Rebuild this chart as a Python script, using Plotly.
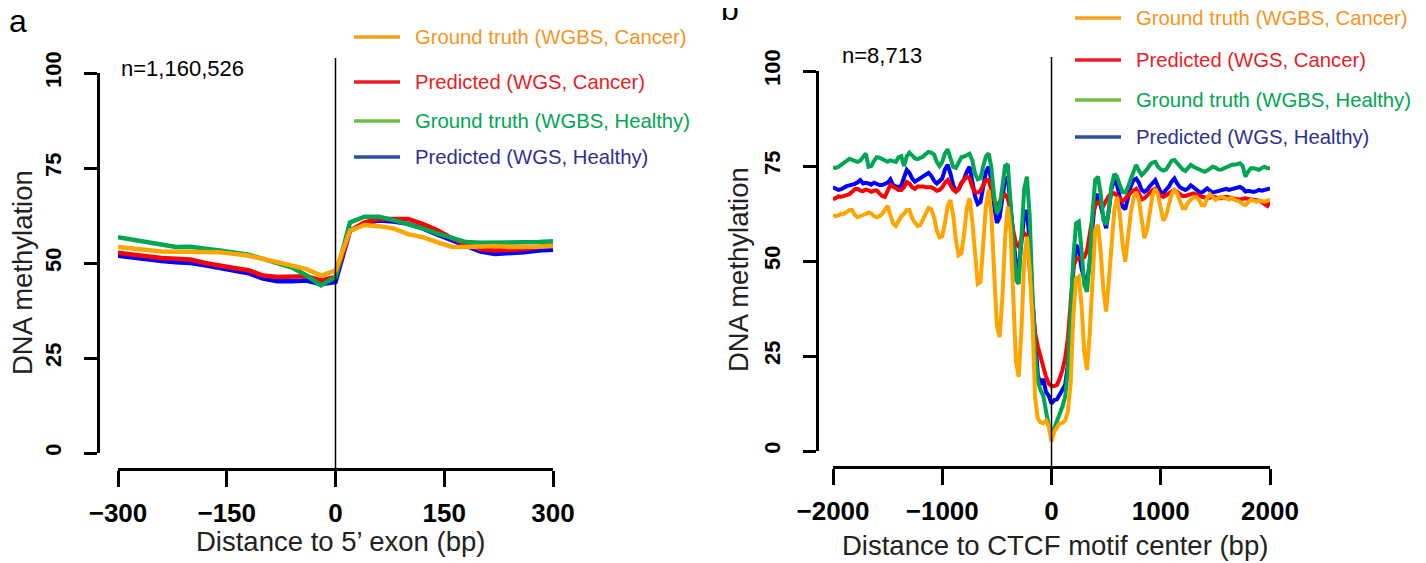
import plotly.graph_objects as go

# ---------------- data: panel a (distance to 5' exon) ----------------
exon_pos = [-300, -280, -260, -240, -220, -200, -180, -160, -140, -120, -100, -80, -60, -40, -20, 0,
            20, 40, 60, 80, 100, 120, 140, 160, 180, 200, 220, 240, 260, 280, 300]
exon_gt_cancer = [54.2, 53.7, 53.4, 53.0, 52.9, 52.8, 52.8, 52.8, 52.4, 51.9, 51.1, 50.2, 49.5, 48.4, 46.7, 48.0,
                  58.5, 60.0, 59.7, 59.1, 57.6, 56.8, 55.5, 54.3, 54.2, 54.4, 54.5, 54.2, 54.2, 54.3, 54.5]
exon_pred_cancer = [52.7, 52.2, 51.8, 51.3, 51.1, 50.9, 50.0, 49.2, 48.7, 48.1, 46.7, 46.3, 46.4, 46.5, 45.4, 46.3,
                    58.5, 60.7, 61.6, 61.7, 61.6, 60.3, 58.7, 56.6, 54.9, 53.7, 53.3, 53.5, 53.7, 54.2, 54.6]
exon_gt_healthy = [56.8, 56.1, 55.5, 54.6, 54.2, 54.3, 53.7, 53.3, 52.8, 52.2, 51.1, 50.0, 48.8, 46.7, 44.1, 46.3,
                   60.7, 62.2, 62.2, 61.3, 60.3, 59.1, 57.8, 56.6, 55.5, 55.3, 55.3, 55.4, 55.4, 55.5, 55.7]
exon_pred_healthy = [51.9, 51.4, 51.0, 50.5, 50.2, 50.0, 49.4, 48.7, 48.1, 47.3, 45.9, 45.2, 45.2, 45.4, 44.4, 45.0,
                     58.5, 60.5, 61.2, 60.9, 60.3, 59.1, 57.5, 56.1, 54.6, 53.0, 52.4, 52.6, 52.8, 53.3, 53.5]

# ---------------- data: panel b (distance to CTCF motif center), 25 bp bins ----------------
ctcf_pos = list(range(-2000, 2001, 25))
ctcf_gt_cancer = [
    62.1, 61.8, 62.0, 62.5, 62.4, 63.0, 63.4, 63.4, 62.1, 61.5,
    61.7, 62.1, 62.4, 62.8, 62.5, 61.8, 61.5, 61.8, 62.4, 63.4,
    64.5, 62.1, 59.9, 59.2, 60.8, 61.8, 62.4, 63.4, 63.4, 61.2,
    60.1, 59.2, 59.5, 61.2, 62.5, 63.9, 63.6, 61.5, 58.0, 56.2, 56.5,
    60.0, 64.5, 66.0, 62.0, 55.5, 51.5, 52.0, 57.0, 64.0, 66.5,
    60.5, 50.5, 44.0, 44.5, 54.0, 64.5, 68.7, 62.0, 47.0, 33.0,
    30.0, 40.0, 56.0, 64.3, 58.0, 42.0, 23.5, 19.5, 32.0, 50.0,
    56.4, 48.0, 35.0, 14.0, 8.5, 7.5, 7.3, 8.0, 6.5, 2.5,
    5.1, 6.2, 7.3, 7.4, 8.0, 10.4, 17.8, 35.4, 45.4, 45.9,
    38.4, 26.1, 21.3, 31.0, 45.9, 58.2, 59.5, 52.5, 42.4, 36.7,
    45.0, 54.6, 63.4, 66.9, 62.5, 54.6, 49.8, 56.0, 62.5, 66.5,
    68.2, 66.1, 61.2, 56.0, 58.2, 63.4, 67.4, 69.1, 67.4, 63.9,
    60.6, 62.1, 65.0, 67.6, 68.7, 67.8, 65.9, 63.9, 63.9, 65.4,
    66.1, 66.7, 66.9, 66.1, 64.7, 64.7, 66.5, 67.6, 66.9, 66.1,
    66.5, 66.9, 66.7, 66.5, 66.2, 66.7, 66.1, 65.9, 65.6, 65.0,
    64.7, 65.4, 66.1, 65.9, 65.6, 65.9, 65.7, 65.6, 65.9, 66.2]
ctcf_pred_cancer = [
    66.2, 66.6, 67.0, 66.9, 67.1, 67.4, 67.6, 68.2, 68.9, 69.0,
    68.5, 68.4, 68.8, 68.6, 68.2, 68.5, 68.6, 67.8, 67.1, 66.9,
    68.7, 70.0, 69.6, 69.0, 68.7, 68.7, 69.4, 70.8, 70.4, 69.4,
    69.0, 69.6, 69.7, 69.6, 69.4, 69.4, 69.4, 69.0, 68.5, 68.7, 69.4,
    70.6, 71.3, 70.0, 68.8, 68.2, 69.0, 70.5, 71.5, 72.2, 71.8,
    69.5, 68.2, 68.0, 68.5, 70.0, 71.3, 71.3, 69.0, 66.0, 64.7,
    65.5, 67.0, 67.4, 66.5, 63.0, 58.0, 54.5, 53.8, 56.0, 57.3,
    56.5, 48.0, 38.0, 31.0, 27.5, 24.5, 22.0, 19.5, 17.8, 17.0,
    17.1, 17.4, 19.1, 21.3, 24.4, 29.6, 38.9, 48.5, 50.4, 50.7,
    50.7, 51.0, 52.7, 57.3, 61.5, 64.5, 65.5, 65.0, 64.5, 65.9,
    67.1, 67.6, 67.8, 67.1, 66.4, 65.7, 66.4, 67.3, 68.0, 68.5,
    69.0, 67.8, 66.2, 66.5, 67.1, 68.0, 68.7, 69.0, 68.0, 67.1,
    66.9, 67.3, 67.8, 68.4, 68.7, 68.2, 67.6, 67.1, 67.1, 67.4,
    67.6, 67.8, 67.5, 67.1, 66.9, 66.8, 66.5, 66.7, 66.9, 66.8,
    66.5, 66.5, 66.8, 66.9, 66.7, 66.5, 66.3, 66.1, 66.1, 66.4,
    66.5, 66.3, 66.2, 66.1, 66.1, 65.9, 65.5, 65.0, 64.5, 65.6]
ctcf_gt_healthy = [
    74.6, 74.5, 74.8, 75.3, 76.0, 76.6, 76.9, 76.6, 76.4, 76.1,
    76.4, 77.6, 78.3, 74.8, 75.0, 76.3, 77.3, 77.2, 76.8, 76.4,
    76.1, 76.5, 76.3, 76.1, 77.3, 77.6, 75.0, 77.5, 78.5, 77.8,
    77.0, 76.8, 77.1, 77.5, 78.2, 78.7, 78.5, 78.0, 76.1, 75.0, 76.1,
    78.3, 79.4, 77.0, 74.8, 74.5, 76.0, 77.3, 77.5, 77.8, 78.2,
    76.5, 73.0, 71.5, 71.8, 75.0, 77.5, 78.3, 74.5, 67.0, 62.5,
    64.0, 70.5, 75.0, 75.5, 66.0, 54.0, 45.0, 44.0, 57.0, 69.0,
    72.2, 62.0, 42.0, 26.0, 18.5, 16.0, 14.5, 10.5, 6.5, 4.0,
    5.9, 8.2, 10.1, 11.7, 14.3, 21.3, 35.4, 51.1, 59.9, 60.4,
    52.9, 43.7, 41.9, 50.3, 62.5, 71.3, 72.2, 67.8, 60.8, 59.5,
    63.4, 70.0, 72.9, 72.2, 70.0, 68.2, 68.0, 69.4, 71.5, 73.5,
    75.3, 73.8, 72.6, 73.3, 74.1, 75.3, 75.9, 76.1, 74.8, 74.1,
    73.8, 74.1, 75.5, 76.4, 76.6, 75.7, 74.8, 74.1, 73.7, 74.4,
    75.3, 74.8, 74.4, 74.0, 73.8, 73.5, 73.8, 74.4, 74.8, 74.6,
    74.1, 74.0, 74.4, 74.8, 75.2, 75.3, 75.3, 75.5, 75.7, 75.0,
    72.2, 73.5, 74.4, 74.4, 74.1, 74.0, 74.5, 74.8, 74.4, 74.4]
ctcf_pred_healthy = [
    69.4, 68.9, 68.7, 68.9, 69.4, 69.7, 69.9, 70.0, 70.3, 70.7,
    71.3, 70.4, 70.6, 70.4, 70.1, 70.6, 70.2, 70.0, 70.0, 70.3,
    70.6, 71.5, 70.0, 69.6, 69.4, 69.9, 71.7, 74.0, 73.2, 71.7,
    70.9, 71.3, 71.7, 72.2, 72.8, 73.2, 72.4, 71.1, 70.4, 70.9, 71.7,
    74.1, 75.3, 73.0, 70.0, 68.5, 68.8, 70.5, 71.5, 73.5, 74.8,
    71.0, 67.0, 65.0, 65.5, 69.5, 73.5, 74.8, 71.0, 64.5, 60.0,
    61.5, 67.0, 71.5, 72.0, 64.0, 55.0, 49.0, 48.0, 56.0, 62.0,
    63.4, 55.0, 40.0, 29.0, 20.0, 17.5, 19.0, 15.5, 14.5, 12.5,
    13.4, 13.6, 14.7, 16.1, 17.4, 22.6, 31.8, 47.6, 54.2, 52.9,
    48.1, 45.4, 44.6, 49.4, 59.0, 66.5, 67.6, 64.7, 60.8, 58.6,
    63.4, 69.1, 71.5, 70.0, 66.9, 64.3, 63.6, 66.5, 69.6, 71.3,
    71.7, 70.6, 68.7, 68.2, 68.7, 69.7, 70.6, 71.3, 69.6, 68.0,
    68.0, 68.7, 69.6, 70.9, 71.7, 70.4, 69.4, 69.0, 68.7, 69.1,
    69.9, 69.4, 68.7, 68.2, 68.0, 68.5, 69.1, 68.5, 68.0, 68.2,
    68.4, 68.7, 68.9, 69.0, 68.7, 68.9, 69.1, 69.2, 69.5, 69.1,
    68.3, 68.5, 68.4, 68.2, 68.4, 68.7, 68.5, 68.7, 68.9, 69.1]

y_ticks = [0, 25, 50, 75, 100]
exon_ticks = [-300, -150, 0, 150, 300]
ctcf_ticks = [-2000, -1000, 0, 1000, 2000]

series_names = ["Ground truth (WGBS, Cancer)", "Predicted (WGS, Cancer)",
                "Ground truth (WGBS, Healthy)", "Predicted (WGS, Healthy)"]
line_colors = ["#FFA500", "#FF0000", "#00A651", "#0000FF"]
legend_line_colors = ["#F7A11A", "#EE1C25", "#6DBE45", "#2A4FA3"]
legend_text_colors = ["#F7941D", "#ED1C24", "#00A651", "#2E3192"]

# The page body has an 8px margin, so the figure is sized to end at the window edge
# and positions below are given in window pixels.
OFF = 8
W, H = 1426 - OFF, 563 - OFF
FONT = "Liberation Sans, Arial, Helvetica, sans-serif"


def px(x):
    return (x - OFF) / W


def py(y):
    return 1 - (y - OFF) / H


fig = go.Figure()

exon_series = [exon_gt_cancer, exon_pred_cancer, exon_gt_healthy, exon_pred_healthy]
ctcf_series = [ctcf_gt_cancer, ctcf_pred_cancer, ctcf_gt_healthy, ctcf_pred_healthy]
draw_order = [3, 1, 2, 0]
for i in draw_order:
    fig.add_trace(go.Scatter(x=exon_pos, y=exon_series[i], mode="lines", name=series_names[i],
                             line=dict(color=line_colors[i], width=4.5), xaxis="x", yaxis="y",
                             showlegend=False))
for i in draw_order:
    fig.add_trace(go.Scatter(x=ctcf_pos[:len(ctcf_series[i])], y=ctcf_series[i], mode="lines",
                             name=series_names[i], line=dict(color=line_colors[i], width=4),
                             xaxis="x2", yaxis="y2", showlegend=False))

axis_common = dict(showgrid=False, zeroline=False, showline=True, linecolor="black", linewidth=2.5,
                   ticks="outside", tickcolor="black", tickwidth=2.5, anchor="free", automargin=False)
xtick_font = dict(size=26, weight="bold", family=FONT, color="black")
ytick_font = dict(size=22, weight="bold", family=FONT, color="black")

fig.update_layout(
    width=W, height=H, margin=dict(l=0, r=0, t=0, b=0, pad=0, autoexpand=False),
    paper_bgcolor="white", plot_bgcolor="white", showlegend=False,
    font=dict(family=FONT, color="black"),
    xaxis=dict(domain=[px(118), px(553)], range=[-300, 300], tickvals=exon_ticks, position=py(469),
               ticklen=16, tickfont=xtick_font, ticklabelstandoff=4, **axis_common),
    yaxis=dict(domain=[py(453), py(73)], range=[0, 100], tickvals=y_ticks, position=px(98),
               ticklen=13, tickangle=-90, tickfont=ytick_font, ticklabelstandoff=14, **axis_common),
    xaxis2=dict(domain=[px(833), px(1270)], range=[-2000, 2000], tickvals=ctcf_ticks, position=py(467),
                ticklen=16, tickfont=xtick_font, ticklabelstandoff=4, **axis_common),
    yaxis2=dict(domain=[py(451), py(71)], range=[0, 100], tickvals=y_ticks, position=px(817),
                ticklen=13, tickangle=-90, tickfont=ytick_font, ticklabelstandoff=14, **axis_common),
)

# vertical reference lines at 0
fig.add_shape(type="line", xref="x", yref="paper", x0=0, x1=0, y0=py(469), y1=py(58),
              line=dict(color="black", width=1.5))
fig.add_shape(type="line", xref="x2", yref="paper", x0=0, x1=0, y0=py(467), y1=py(57),
              line=dict(color="black", width=1.5))

# legends (line swatch + coloured text)
legend_a_rows = [37, 82, 121, 157]
legend_b_rows = [18, 60, 100, 137]
for rows, x_line0, x_line1, x_text in [(legend_a_rows, 354, 400, 414), (legend_b_rows, 1075, 1121, 1135)]:
    for i, yy in enumerate(rows):
        fig.add_shape(type="line", xref="paper", yref="paper", x0=px(x_line0), x1=px(x_line1),
                      y0=py(yy), y1=py(yy), line=dict(color=legend_line_colors[i], width=3.5))
        fig.add_annotation(xref="paper", yref="paper", x=px(x_text), y=py(yy), xanchor="left",
                           yanchor="middle", text=series_names[i], showarrow=False, borderpad=0,
                           font=dict(size=20.3, color=legend_text_colors[i], family=FONT))

# counts
count_font = dict(size=22, color="black", family=FONT)
fig.add_annotation(xref="paper", yref="paper", x=px(119), y=py(68), xanchor="left", yanchor="middle",
                   text="n=1,160,526", showarrow=False, font=count_font)
fig.add_annotation(xref="paper", yref="paper", x=px(840), y=py(55), xanchor="left", yanchor="middle",
                   text="n=8,713", showarrow=False, font=count_font)

# panel letters
fig.add_annotation(xref="paper", yref="paper", x=px(8), y=py(40), xanchor="left", yanchor="bottom",
                   text="a", showarrow=False, borderpad=0, font=dict(size=32, color="black", family=FONT))
fig.add_annotation(xref="paper", yref="paper", x=px(720), y=py(28), xanchor="left", yanchor="bottom",
                   text="b", showarrow=False, borderpad=0, font=dict(size=32, color="black", family=FONT))

# axis titles
title_font = dict(size=27.5, color="#222222", family=FONT)
fig.add_annotation(xref="paper", yref="paper", x=px(340), y=py(541), xanchor="center", yanchor="middle",
                   text="Distance to 5\u2019 exon (bp)", showarrow=False, font=title_font)
fig.add_annotation(xref="paper", yref="paper", x=px(1055), y=py(545), xanchor="center", yanchor="middle",
                   text="Distance to CTCF motif center (bp)", showarrow=False, font=title_font)
fig.add_annotation(xref="paper", yref="paper", x=px(22), y=py(273), xanchor="center", yanchor="middle",
                   text="DNA methylation", textangle=-90, showarrow=False, font=title_font)
fig.add_annotation(xref="paper", yref="paper", x=px(738), y=py(270), xanchor="center", yanchor="middle",
                   text="DNA methylation", textangle=-90, showarrow=False, font=title_font)

fig.write_html("out.html")
